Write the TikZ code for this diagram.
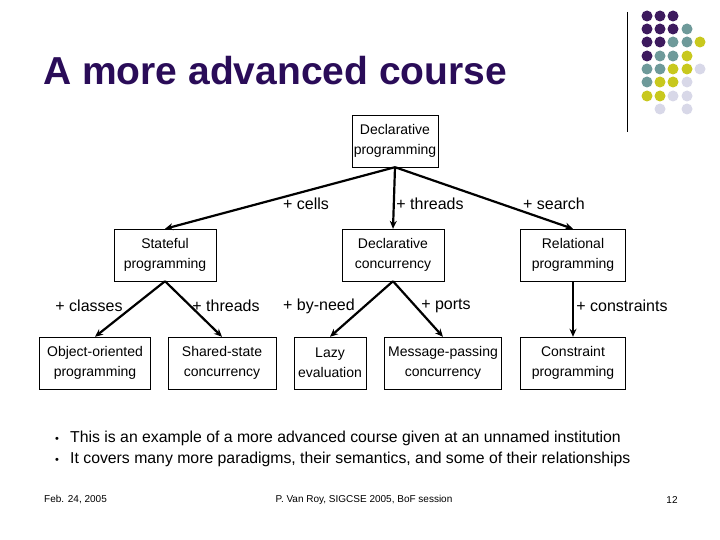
\documentclass[tikz,border=0pt]{standalone}
\usepackage{fontspec}
\setmainfont{Liberation Sans}
\usetikzlibrary{positioning,arrows.meta}
\definecolor{DotPurple}{HTML}{3D1A5E}
\definecolor{DotTeal}{HTML}{6E9A9A}
\definecolor{DotYellow}{HTML}{C8C81E}
\definecolor{DotLilac}{HTML}{D8D8E8}
\definecolor{TitleInk}{HTML}{2A0C58}
\tikzset{
  % Box styles
  parabox/.style={rectangle, draw=black, thin, align=center, font=\fontsize{14}{19.5}\selectfont, inner sep=0pt},
  edgelabel/.style={font=\fontsize{16}{18}\selectfont},
  % Arrow styles
  arrow/.style={-{Stealth[length=8pt,width=7pt]}, line width=2.2pt},
  dot/.style={circle, inner sep=0pt, minimum size=11pt}
}
\begin{document}
\begin{tikzpicture}[x=1pt,y=-1pt]
  \useasboundingbox (0,0) rectangle (720,540);
  % Title and logo
  \node[anchor=west, font=\fontsize{39}{44}\selectfont\bfseries, text=TitleInk, inner sep=0pt] (title) at (43,71) {A more advanced course};
  \draw[line width=1pt] (627,12) -- (627,132);
  \foreach \row/\cols in {16/{647/DotPurple,660/DotPurple,673/DotPurple},
      29/{647/DotPurple,660/DotPurple,673/DotPurple,687/DotTeal},
      42/{647/DotPurple,660/DotPurple,673/DotTeal,687/DotTeal,700/DotYellow},
      56/{647/DotPurple,660/DotTeal,673/DotTeal,687/DotYellow},
      69/{647/DotTeal,660/DotTeal,673/DotYellow,687/DotYellow,700/DotLilac},
      82/{647/DotTeal,660/DotYellow,673/DotYellow,687/DotLilac},
      96/{647/DotYellow,660/DotYellow,673/DotLilac,687/DotLilac},
      109/{660/DotLilac,687/DotLilac}}
    \foreach \x/\c in \cols
      \node[dot, fill=\c] at (\x,\row) {};

  % Paradigm boxes
  \node[parabox, minimum width=86pt, minimum height=52pt] (decl) at (395,141) {Declarative\\programming};
  \node[parabox, minimum width=102pt, minimum height=52pt] (state) at (165,255) {Stateful\\programming};
  \node[parabox, minimum width=102pt, minimum height=52pt] (dconc) at (393,255) {Declarative\\concurrency};
  \node[parabox, minimum width=105pt, minimum height=52pt] (rel) at (573,255) {Relational\\programming};
  \node[parabox, minimum width=111pt, minimum height=52pt] (oop) at (95,363) {Object-oriented\\programming};
  \node[parabox, minimum width=108pt, minimum height=52pt] (shared) at (222,363) {Shared-state\\concurrency};
  \node[parabox, minimum width=72pt, minimum height=52pt] (lazy) at (330,363) {Lazy\\evaluation};
  \node[parabox, minimum width=117pt, minimum height=52pt] (msg) at (443,363) {Message-passing\\concurrency};
  \node[parabox, minimum width=105pt, minimum height=52pt] (cons) at (573,363) {Constraint\\programming};

  % Connectors
  \draw[arrow] (decl.south) -- (state.north);
  \draw[arrow] (decl.south) -- (dconc.north);
  \draw[arrow] (decl.south) -- (rel.north);
  \draw[arrow] (state.south) -- (oop.north);
  \draw[arrow] (state.south) -- (shared.north);
  \draw[arrow] (dconc.south) -- (lazy.north);
  \draw[arrow] (dconc.south) -- (msg.north);
  \draw[arrow] (rel.south) -- (cons.north);

  % Edge labels
  \node[edgelabel] (lcells) at (306,204) {+ cells};
  \node[edgelabel] (lthr) at (430,204) {+ threads};
  \node[edgelabel] (lsearch) at (554,204) {+ search};
  \node[edgelabel] (lclass) at (89,306) {+ classes};
  \node[edgelabel] (lthr2) at (226,306) {+ threads};
  \node[edgelabel] (lneed) at (319,306) {+ by-need};
  \node[edgelabel] (lports) at (446,306) {+ ports};
  \node[edgelabel] (lcons) at (622,306) {+ constraints};

  % Bullets
  \node[anchor=west, font=\fontsize{15.8}{21}\selectfont, align=left, inner sep=0pt] (bul) at (55,448.5)
    {\makebox[15pt][l]{\fontsize{11}{11}\selectfont\textbullet}This is an example of a more advanced course given at an unnamed institution\\
     \makebox[15pt][l]{\fontsize{11}{11}\selectfont\textbullet}It covers many more paradigms, their semantics, and some of their relationships};

  % Footer
  \node[anchor=west, font=\fontsize{10}{11}\selectfont, inner sep=0pt] (date) at (44,500) {Feb. 24, 2005};
  \node[font=\fontsize{10}{11}\selectfont] (foot) at (364,500) {P. Van Roy, SIGCSE 2005, BoF session};
  \node[font=\fontsize{10}{11}\selectfont] (page) at (672,500) {12};
\end{tikzpicture}
\end{document}
